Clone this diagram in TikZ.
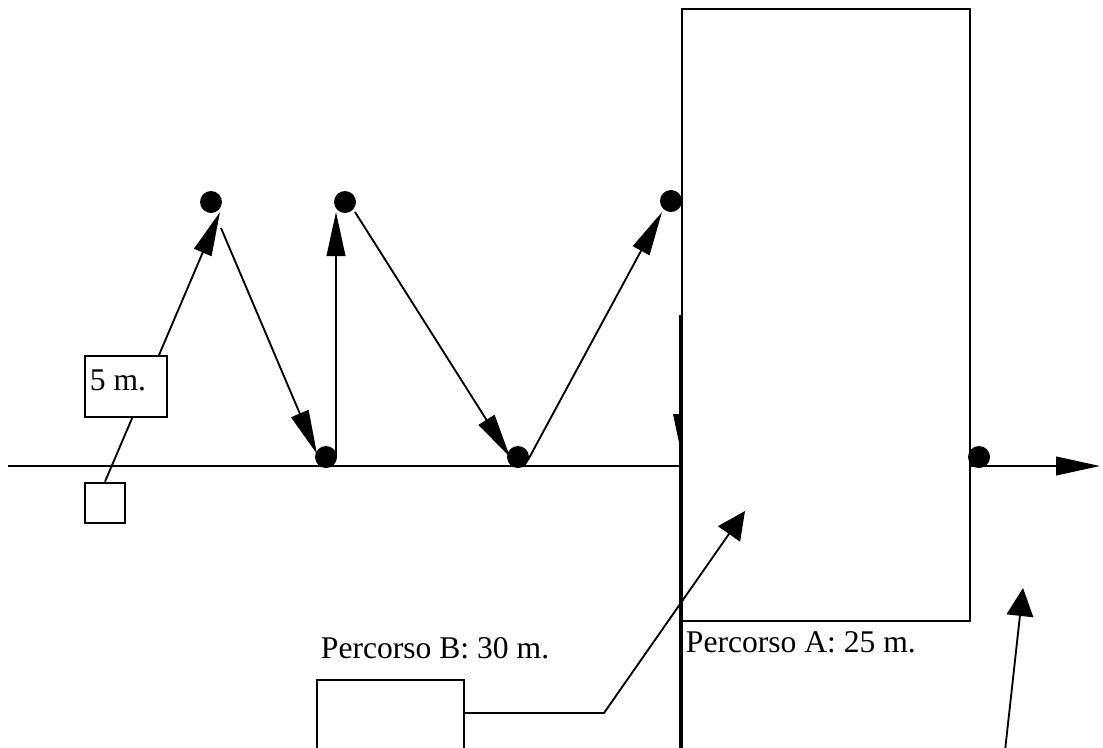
\documentclass[tikz,border=0pt]{standalone}
\usepackage{fontspec}
\setmainfont{Liberation Serif}
\usepackage{tikz}
\usetikzlibrary{arrows.meta, positioning}

\begin{document}
\begin{tikzpicture}[
    x=0.75pt, y=-0.75pt, line width=1.4pt,
    dot/.style={circle, fill=black, inner sep=0pt, minimum size=16.5pt},
    pts/.style={-{Triangle[length=33pt, width=14pt]}},
    callout/.style={-{Triangle[length=21pt, width=20pt]}},
    lbl/.style={inner sep=0pt, anchor=base west, font=\fontsize{23.7}{28}\selectfont}
  ]
  \clip (0,0) rectangle (1103,747);
  \fill[white] (0,0) rectangle (1103,747);

  % lane rectangle and wall
  \node[draw, line width=1.2pt, anchor=north west, inner sep=0pt,
    minimum width=216pt, minimum height=459pt] (lane) at (681,8) {};
  \coordinate (wallTop) at (681,315);
  \coordinate (wallEnd) at (681,760);
  \draw[line width=3pt] (wallTop) -- (wallEnd);
  \fill (673,414) -- (681,414) -- (681,452) -- cycle;

  % ground line
  \coordinate (g0) at (8,466);
  \coordinate (g1) at (681,466);
  \draw (g0) -- (g1);

  % dots
  \node[dot] (d1) at (211,202) {};
  \node[dot] (d2) at (345,202) {};
  \node[dot] (d3) at (671,201) {};
  \node[dot] (b1) at (326,457) {};
  \node[dot] (b2) at (518,457) {};
  \node[dot] (d4) at (979,457) {};

  % start marker and 5 m. box
  \node[draw, line width=2pt, minimum size=30pt, inner sep=0pt] (flag) at (105,503) {};
  \coordinate (t1) at (220,212);
  \draw[pts] (flag.north) -- (t1);
  \node[draw, fill=white, line width=1.2pt, anchor=north west, inner sep=0pt,
    minimum width=61.5pt, minimum height=45.75pt] (len) at (84,355) {};
  \node[lbl] (lenTxt) at (89,390) {5 m.};

  % zig-zag path
  \coordinate (s2) at (221,228);  \coordinate (t2) at (317,454);
  \coordinate (s3) at (336,457);  \coordinate (t3) at (336,212);
  \coordinate (s4) at (355,212);  \coordinate (t4) at (510,457);
  \coordinate (s5) at (528,460);  \coordinate (t5) at (662,212);
  \draw[pts] (s2) -- (t2);
  \draw[pts] (s3) -- (t3);
  \draw[pts] (s4) -- (t4);
  \draw[pts] (s5) -- (t5);

  % exit arrow
  \coordinate (s6) at (969,466);
  \coordinate (t6) at (1100,466);
  \draw[pts] (s6) -- (t6);

  % labels
  \node[lbl] (pathA) at (685,652) {Percorso A: 25 m.};
  \node[lbl] (pathB) at (320,658) {Percorso B: 30 m.};

  % callouts
  \node[draw, line width=1.2pt, anchor=north west, inner sep=0pt,
    minimum width=110.25pt, minimum height=75pt] (boxB) at (316,679) {};
  \coordinate (bend) at (604,713);
  \coordinate (tB) at (745,511);
  \draw[callout] (boxB.north east |- bend) -- (bend) -- (tB);
  \coordinate (s7) at (1004,760);
  \coordinate (t7) at (1023,588);
  \draw[callout] (s7) -- (t7);
\end{tikzpicture}
\end{document}
